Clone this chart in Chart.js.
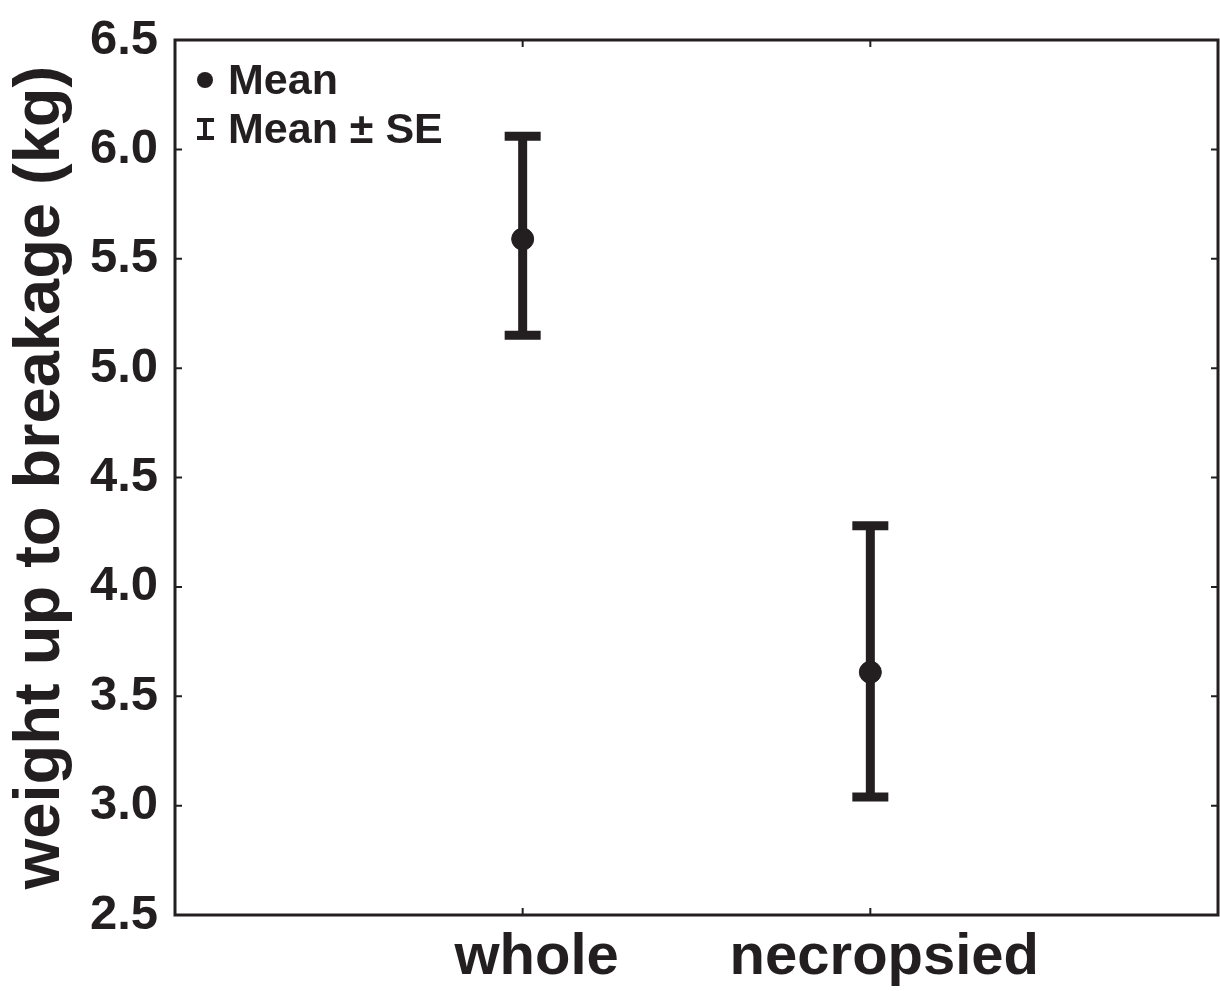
<!DOCTYPE html>
<html>
<head>
<meta charset="utf-8">
<script src="https://cdn.jsdelivr.net/npm/chart.js@4.4.1/dist/chart.umd.min.js"></script>
<style>
  html, body { margin: 0; padding: 0; background: #fff; overflow: hidden; }
  #wrap { width: 1220px; height: 991px; }
</style>
</head>
<body>
<div id="wrap"><canvas id="grafico"></canvas></div>
<script>
// dados
const categorias = ["whole", "necropsied"];
const medias = [5.59, 3.61];
const limiteSuperior = [6.06, 4.28];
const limiteInferior = [5.15, 3.04];
const ticksY = [2.5, 3.0, 3.5, 4.0, 4.5, 5.0, 5.5, 6.0, 6.5];

const corTinta = "#231f20";
const fonte = "'Liberation Sans', Arial, sans-serif";

// barras de erro (média ± EP), moldura e legenda
const barrasErro = {
    id: "barrasErro",
    beforeDatasetsDraw(chart) {
        const ctx = chart.ctx;
        const sx = chart.scales.x, sy = chart.scales.y;
        ctx.save();
        ctx.strokeStyle = corTinta;
        ctx.lineCap = "butt";
        categorias.forEach((c, i) => {
            const x = sx.getPixelForValue(i + 1);
            const yTop = sy.getPixelForValue(limiteSuperior[i]);
            const yBot = sy.getPixelForValue(limiteInferior[i]);
            ctx.lineWidth = 9;
            ctx.beginPath();
            ctx.moveTo(x, yTop);
            ctx.lineTo(x, yBot);
            ctx.stroke();
            ctx.beginPath();
            ctx.moveTo(x - 18, yTop);
            ctx.lineTo(x + 18, yTop);
            ctx.moveTo(x - 18, yBot);
            ctx.lineTo(x + 18, yBot);
            ctx.stroke();
        });
        ctx.restore();
    },
    afterDraw(chart) {
        const ctx = chart.ctx;
        const a = chart.chartArea;
        const sx = chart.scales.x, sy = chart.scales.y;
        ctx.save();
        // moldura
        ctx.strokeStyle = corTinta;
        ctx.lineWidth = 3;
        ctx.strokeRect(a.left, a.top, a.right - a.left, a.bottom - a.top);
        // marcas para dentro
        ctx.lineWidth = 2;
        ctx.beginPath();
        ticksY.forEach(v => {
            const y = sy.getPixelForValue(v);
            ctx.moveTo(a.left, y); ctx.lineTo(a.left + 7, y);
            ctx.moveTo(a.right, y); ctx.lineTo(a.right - 7, y);
        });
        categorias.forEach((c, i) => {
            const x = sx.getPixelForValue(i + 1);
            ctx.moveTo(x, a.bottom); ctx.lineTo(x, a.bottom - 7);
            ctx.moveTo(x, a.top); ctx.lineTo(x, a.top + 7);
        });
        ctx.stroke();

        // legenda
        ctx.fillStyle = corTinta;
        ctx.font = "bold 43px " + fonte;
        ctx.textBaseline = "alphabetic";
        ctx.textAlign = "left";
        ctx.beginPath();
        ctx.arc(a.left + 30, a.top + 40, 8, 0, Math.PI * 2);
        ctx.fill();
        ctx.fillText("Mean", a.left + 53, a.top + 54);
        // símbolo I
        ctx.fillRect(a.left + 28, a.top + 78, 4, 22);
        ctx.fillRect(a.left + 22, a.top + 78, 17, 4);
        ctx.fillRect(a.left + 22, a.top + 96, 17, 4);
        ctx.fillText("Mean ± SE", a.left + 53, a.top + 103);
        ctx.restore();
    }
};

new Chart(document.getElementById("grafico"), {
    type: "scatter",
    data: {
        datasets: [{
            label: "Mean",
            data: medias.map((m, i) => ({ x: i + 1, y: m })),
            backgroundColor: corTinta,
            borderColor: corTinta,
            pointRadius: 11,
            pointHoverRadius: 11
        }]
    },
    options: {
        responsive: true,
        maintainAspectRatio: false,
        animation: false,
        layout: { autoPadding: false, padding: { left: 0, top: 40, right: 2, bottom: 0 } },
        plugins: {
            legend: { display: false },
            tooltip: { enabled: false }
        },
        scales: {
            x: {
                type: "linear",
                min: 0,
                max: 3,
                afterBuildTicks: s => { s.ticks = categorias.map((c, i) => ({ value: i + 1 })); },
                afterFit: s => { s.height = 76; },
                grid: { display: false, drawTicks: false },
                border: { display: false },
                ticks: {
                    color: corTinta,
                    padding: 8,
                    labelOffset: 14,
                    font: { family: fonte, size: 58, weight: "bold" },
                    callback: v => categorias[v - 1] || ""
                }
            },
            y: {
                min: 2.5,
                max: 6.5,
                afterBuildTicks: s => { s.ticks = ticksY.map(v => ({ value: v })); },
                afterFit: s => { s.width = 175; s.paddingTop = 0; s.paddingBottom = 0; },
                grid: { display: false, drawTicks: false },
                border: { display: false },
                ticks: {
                    color: corTinta,
                    padding: 17,
                    font: { family: fonte, size: 49, weight: "bold", lineHeight: 0.8 },
                    callback: v => v.toFixed(1)
                },
                title: {
                    display: true,
                    text: "weight up to breakage (kg)",
                    color: corTinta,
                    padding: { top: 2, bottom: 0 },
                    font: { family: fonte, size: 65, weight: "bold" }
                }
            }
        }
    },
    plugins: [barrasErro]
});
</script>
</body>
</html>
